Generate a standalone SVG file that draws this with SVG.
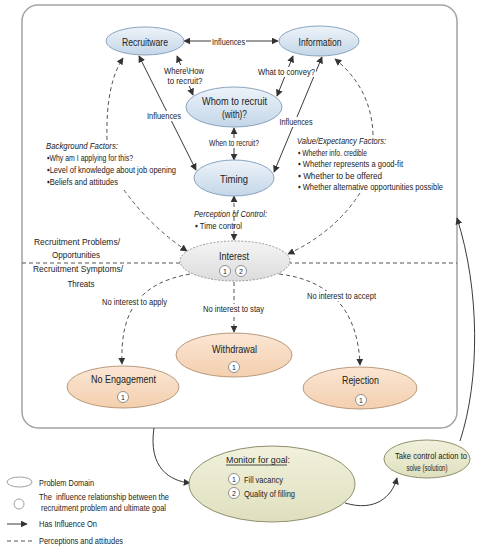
<svg xmlns="http://www.w3.org/2000/svg" width="482" height="550" viewBox="0 0 482 550">
<defs>
<linearGradient id="gBlue" x1="0" y1="0" x2="0" y2="1"><stop offset="0" stop-color="#eef3f9"/><stop offset="1" stop-color="#c3d6e8"/></linearGradient>
<linearGradient id="gOrange" x1="0" y1="0" x2="0" y2="1"><stop offset="0" stop-color="#fbe6d4"/><stop offset="1" stop-color="#f3cfae"/></linearGradient>
<linearGradient id="gGray" x1="0" y1="0" x2="0" y2="1"><stop offset="0" stop-color="#f4f4f4"/><stop offset="1" stop-color="#dcdcdc"/></linearGradient>
<linearGradient id="gOlive" x1="0" y1="0" x2="0" y2="1"><stop offset="0" stop-color="#f1f1dc"/><stop offset="1" stop-color="#dfdfbf"/></linearGradient>
<marker id="ah" viewBox="0 0 10 10" refX="9" refY="5" markerWidth="7" markerHeight="7" markerUnits="userSpaceOnUse" orient="auto-start-reverse"><path d="M0,0 L10,5 L0,10 z" fill="#333"/></marker>
</defs>
<style>
text{font-family:"Liberation Sans",Arial,sans-serif;fill:#222}
.nm{font-size:11.5px;text-anchor:middle}
.sm{font-size:9.5px}
.lb{font-size:9px;text-anchor:middle}
.it{font-style:italic}
.solid{fill:none;stroke:#3a3a3a;stroke-width:1}
.dash{fill:none;stroke:#555;stroke-width:1;stroke-dasharray:4,3}
.blue{fill:url(#gBlue);stroke:#8aa4bf;stroke-width:1}
.orange{fill:url(#gOrange);stroke:#b99a7c;stroke-width:1}
.olive{fill:url(#gOlive);stroke:#8f8f6c;stroke-width:1}
.num{fill:#fff;stroke:#777;stroke-width:0.8}
.nt{font-size:7px;text-anchor:middle}
.bg{fill:#fff}
</style>

<rect x="22" y="5" width="435" height="423" rx="16" fill="#fff" stroke="#a3a3a3" stroke-width="1.5"/>
<line x1="22" y1="263" x2="457" y2="263" stroke="#555" stroke-width="1" stroke-dasharray="4,3"/>

<g id="connectors">
<path class="solid" d="M184,41 L278,41" marker-start="url(#ah)" marker-end="url(#ah)"/>
<path class="solid" d="M177,56 L193,95" marker-start="url(#ah)" marker-end="url(#ah)"/>
<path class="solid" d="M293,56 L277,96" marker-start="url(#ah)" marker-end="url(#ah)"/>
<path class="solid" d="M139,56 L196,170" marker-start="url(#ah)" marker-end="url(#ah)"/>
<path class="solid" d="M322,57 L274,172" marker-start="url(#ah)" marker-end="url(#ah)"/>
<path class="solid" d="M234,128 L234,160" marker-start="url(#ah)" marker-end="url(#ah)"/>
<path class="dash" d="M234,196 L234,240" marker-start="url(#ah)" marker-end="url(#ah)"/>
<path class="dash" d="M107,140 C106,100 112,75 123,58" marker-end="url(#ah)"/>
<path class="dash" d="M124,190 Q150,226 187,251" marker-end="url(#ah)"/>
<path class="dash" d="M373,135 C372,100 356,76 335,59" marker-end="url(#ah)"/>
<path class="dash" d="M360,193 Q335,232 288,254" marker-end="url(#ah)"/>
<path class="dash" d="M190,274 C140,283 120,310 122,364" marker-end="url(#ah)"/>
<path class="dash" d="M234,282 L234,332" marker-end="url(#ah)"/>
<path class="dash" d="M279,274 C330,280 358,310 360,365" marker-end="url(#ah)"/>
<path class="solid" d="M154,428 C148,468 170,481 190,483" marker-end="url(#ah)"/>
<path class="solid" d="M345,503 C375,512 392,497 397,478" marker-end="url(#ah)"/>
<path class="solid" d="M460,441 C480,380 480,290 457,218" marker-end="url(#ah)"/>

<rect class="bg" x="211" y="36" width="35" height="10"/>
<text class="lb" x="228.5" y="44.5" textLength="33" lengthAdjust="spacingAndGlyphs">Influences</text>
<rect class="bg" x="163" y="65" width="42" height="21"/>
<text class="lb" x="184" y="74" textLength="40" lengthAdjust="spacingAndGlyphs">Where\How</text>
<text class="lb" x="185" y="84" textLength="35" lengthAdjust="spacingAndGlyphs">to recruit?</text>
<rect class="bg" x="257" y="67" width="59" height="10"/>
<text class="lb" x="286.5" y="75" textLength="57" lengthAdjust="spacingAndGlyphs">What to convey?</text>
<rect class="bg" x="146" y="111" width="36" height="10"/>
<text class="lb" x="164" y="119" textLength="34" lengthAdjust="spacingAndGlyphs">Influences</text>
<rect class="bg" x="278" y="117" width="36" height="10"/>
<text class="lb" x="296" y="125" textLength="33" lengthAdjust="spacingAndGlyphs">Influences</text>
<rect class="bg" x="208" y="138" width="52" height="10"/>
<text class="lb" x="234" y="146" textLength="50" lengthAdjust="spacingAndGlyphs">When to recruit?</text>
<rect class="bg" x="101" y="297" width="67" height="10"/>
<text class="lb" x="134.5" y="305" textLength="65" lengthAdjust="spacingAndGlyphs">No interest to apply</text>
<rect class="bg" x="202" y="304" width="63" height="10"/>
<text class="lb" x="233.5" y="312" textLength="61" lengthAdjust="spacingAndGlyphs">No interest to stay</text>
<rect class="bg" x="306" y="291" width="71" height="10"/>
<text class="lb" x="341.5" y="299" textLength="69" lengthAdjust="spacingAndGlyphs">No interest to accept</text>
</g>

<g id="recruitware">
<ellipse class="blue" cx="145" cy="41" rx="39" ry="14"/>
<text class="nm" x="145" y="45.5" textLength="46" lengthAdjust="spacingAndGlyphs">Recruitware</text>
</g>
<g id="information">
<ellipse class="blue" cx="319" cy="41" rx="40" ry="15"/>
<text class="nm" x="320" y="45.5" textLength="43" lengthAdjust="spacingAndGlyphs">Information</text>
</g>
<g id="whom">
<ellipse class="blue" cx="234" cy="107" rx="48" ry="20"/>
<text class="nm" x="234.5" y="104.5" textLength="65" lengthAdjust="spacingAndGlyphs">Whom to recruit</text>
<text class="nm" x="234.5" y="117.5" textLength="25" lengthAdjust="spacingAndGlyphs">(with)?</text>
</g>
<g id="timing">
<ellipse class="blue" cx="234" cy="178" rx="40" ry="18"/>
<text class="nm" x="234" y="182.5" textLength="28" lengthAdjust="spacingAndGlyphs">Timing</text>
</g>

<g id="background-factors">
<text class="sm it" x="46" y="149" textLength="72" lengthAdjust="spacingAndGlyphs">Background Factors:</text>
<text class="sm" x="47" y="161" textLength="86" lengthAdjust="spacingAndGlyphs">▪Why am I applying for this?</text>
<text class="sm" x="47" y="173" textLength="129" lengthAdjust="spacingAndGlyphs">▪Level of knowledge about job opening</text>
<text class="sm" x="47" y="184.5" textLength="71" lengthAdjust="spacingAndGlyphs">▪Beliefs and attitudes</text>
</g>
<g id="value-factors">
<text class="sm it" x="297" y="144" textLength="89" lengthAdjust="spacingAndGlyphs">Value/Expectancy Factors:</text>
<text class="sm" x="298" y="156" textLength="69" lengthAdjust="spacingAndGlyphs">▪ Whether info. credible</text>
<text class="sm" x="298" y="167" textLength="105" lengthAdjust="spacingAndGlyphs">▪ Whether represents a good-fit</text>
<text class="sm" x="298" y="178.5" textLength="84" lengthAdjust="spacingAndGlyphs">▪ Whether to be offered</text>
<text class="sm" x="298" y="190" textLength="145" lengthAdjust="spacingAndGlyphs">▪ Whether alternative opportunities possible</text>
</g>
<g id="perception-control">
<text class="sm it" x="194" y="217" textLength="73" lengthAdjust="spacingAndGlyphs">Perception of Control:</text>
<text class="sm" x="195" y="228.5" textLength="47" lengthAdjust="spacingAndGlyphs">▪ Time control</text>
</g>
<g id="zone-labels">
<text class="sm" x="77" y="245" text-anchor="middle" textLength="86" lengthAdjust="spacingAndGlyphs">Recruitment Problems/</text>
<text class="sm" x="76" y="258" text-anchor="middle" textLength="48" lengthAdjust="spacingAndGlyphs">Opportunities</text>
<text class="sm" x="78" y="272" text-anchor="middle" textLength="90" lengthAdjust="spacingAndGlyphs">Recruitment Symptoms/</text>
<text class="sm" x="81" y="287" text-anchor="middle" textLength="27" lengthAdjust="spacingAndGlyphs">Threats</text>
</g>

<g id="interest">
<ellipse cx="235" cy="261" rx="55" ry="20" fill="url(#gGray)" stroke="#999" stroke-width="1" stroke-dasharray="2,1.5"/>
<text class="nm" x="234" y="260" textLength="30" lengthAdjust="spacingAndGlyphs">Interest</text>
<circle class="num" cx="225" cy="271" r="5.5"/><text class="nt" x="225" y="273.5">1</text>
<circle class="num" cx="241" cy="271" r="5.5"/><text class="nt" x="241" y="273.5">2</text>
</g>
<g id="withdrawal">
<ellipse class="orange" cx="234" cy="355" rx="58" ry="22"/>
<text class="nm" x="234.5" y="353" textLength="45" lengthAdjust="spacingAndGlyphs">Withdrawal</text>
<circle class="num" cx="234" cy="367" r="5.5"/><text class="nt" x="234" y="369.5">1</text>
</g>
<g id="no-engagement">
<ellipse class="orange" cx="123" cy="387" rx="56" ry="21"/>
<text class="nm" x="123.5" y="383" textLength="65" lengthAdjust="spacingAndGlyphs">No Engagement</text>
<circle class="num" cx="123" cy="397" r="5.5"/><text class="nt" x="123" y="399.5">1</text>
</g>
<g id="rejection">
<ellipse class="orange" cx="360" cy="388" rx="57" ry="21"/>
<text class="nm" x="360.5" y="384" textLength="37" lengthAdjust="spacingAndGlyphs">Rejection</text>
<circle class="num" cx="361" cy="400" r="5.5"/><text class="nt" x="361" y="402.5">1</text>
</g>

<g id="monitor">
<ellipse class="olive" cx="272" cy="484" rx="83" ry="38"/>
<text class="sm" x="226" y="463" font-size="10.5" textLength="64" lengthAdjust="spacingAndGlyphs">Monitor for goal:</text>
<line x1="226" y1="465" x2="287" y2="465" stroke="#222" stroke-width="0.8"/>
<circle class="num" cx="234" cy="479" r="5.5"/><text class="nt" x="234" y="481.5">1</text>
<text class="sm" x="244" y="483" textLength="39" lengthAdjust="spacingAndGlyphs">Fill vacancy</text>
<circle class="num" cx="234" cy="493" r="5.5"/><text class="nt" x="234" y="495.5">2</text>
<text class="sm" x="244" y="497" textLength="51" lengthAdjust="spacingAndGlyphs">Quality of filling</text>
</g>
<g id="take-control">
<ellipse class="olive" cx="427" cy="459" rx="43" ry="19"/>
<text class="lb" x="431" y="459" textLength="72" lengthAdjust="spacingAndGlyphs">Take control action to</text>
<text class="lb" x="427" y="471" textLength="41" lengthAdjust="spacingAndGlyphs">solve (solution)</text>
</g>

<g id="legend">
<ellipse cx="19.5" cy="482" rx="12.5" ry="5" fill="#fff" stroke="#888" stroke-width="0.8"/>
<text class="sm" x="39" y="486" textLength="55" lengthAdjust="spacingAndGlyphs">Problem Domain</text>
<circle cx="19" cy="504" r="5" fill="#fff" stroke="#888" stroke-width="0.8"/>
<text class="sm" x="39" y="500" textLength="130" lengthAdjust="spacingAndGlyphs" style="white-space:pre">The  influence relationship between the</text>
<text class="sm" x="41" y="511" textLength="125" lengthAdjust="spacingAndGlyphs">recruitment problem and ultimate goal</text>
<line x1="7" y1="524" x2="27" y2="524" class="solid" marker-end="url(#ah)"/>
<text class="sm" x="39" y="527" textLength="58" lengthAdjust="spacingAndGlyphs">Has Influence On</text>
<line x1="7" y1="541" x2="32" y2="541" class="dash"/>
<text class="sm" x="39" y="544" textLength="84" lengthAdjust="spacingAndGlyphs">Perceptions and attitudes</text>
</g>
</svg>
